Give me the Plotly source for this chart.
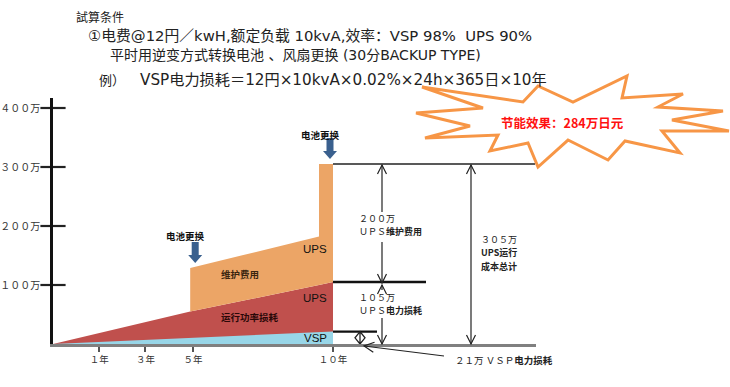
import math
import plotly.graph_objects as go

# ---------------- data ----------------
cost_years = [0, 4.9, 4.9, 9.5, 9.5, 10]          # x positions of the cost curve break points (years)
ups_power_loss = [0, 55, 55, 100, 100, 105]        # UPS running power loss, cumulative (万円)
ups_total_cost = [0, 55, 129, 182, 305, 305]       # UPS power loss + maintenance, cumulative (万円)
vsp_years = [0, 10]
vsp_power_loss = [0, 21]                           # VSP power loss, cumulative (万円)

battery_years = [4.9, 9.5]                         # battery replacement
y_ticks = [100, 200, 300, 400]
y_tick_text = ["１００万", "２００万", "３００万", "４００万"]
x_tick_text = ["１年", "３年", "５年", "１０年"]
x_tick_pos = [1.65, 3.3, 5.0, 10.0]

total_ups = 305
ups_maint = 200
ups_power = 105
vsp_power = 21
saving = 284

# ---------------- geometry helpers ----------------
W, H = 730, 387
X0, PXY = 53, 28.0        # px of year 0, px per year
Y0, PXW = 344, 0.59       # px of 0万, px per 万
XR, YT = 536, 98          # right end of x axis, top of y axis (px)


def xd(px):
    return (px - X0) / PXY


def yd(py):
    return (Y0 - py) / PXW


def px_(x):
    return X0 + x * PXY


def py_(y):
    return Y0 - y * PXW


def xp(px):
    return px / W


def yp(py):
    return 1 - py / H


CJK = "Noto Sans CJK SC"
LAT = "DejaVu Sans, Noto Sans CJK SC"
BLUE = "rgb(152,214,232)"
RED = "rgb(192,80,77)"
ORANGE = "rgb(236,165,102)"
ARROW_BLUE = "rgb(58,96,142)"
STAR = "rgb(247,150,70)"

fig = go.Figure()

fig.add_trace(go.Scatter(x=cost_years, y=ups_power_loss, mode="lines", line=dict(width=0, color=RED),
                         fill="tozeroy", fillcolor=RED, hoverinfo="skip", showlegend=False))
fig.add_trace(go.Scatter(x=cost_years, y=ups_total_cost, mode="lines", line=dict(width=0, color=ORANGE),
                         fill="tonexty", fillcolor=ORANGE, hoverinfo="skip", showlegend=False))
fig.add_trace(go.Scatter(x=vsp_years, y=vsp_power_loss, mode="lines", line=dict(width=0, color=BLUE),
                         fill="tozeroy", fillcolor=BLUE, hoverinfo="skip", showlegend=False))
# y tick marks crossing the axis
fig.add_trace(go.Scatter(x=[0] * len(y_ticks), y=y_ticks, mode="markers", cliponaxis=False,
                         marker=dict(symbol="line-ew", size=18, line=dict(width=2.2, color="#222")),
                         hoverinfo="skip", showlegend=False))

shapes = []


def seg(p1, p2, width=1.2, color="#222"):
    """line between two pixel points (paper coordinates, not clipped)"""
    shapes.append(dict(type="line", xref="paper", yref="paper", x0=xp(p1[0]), y0=yp(p1[1]),
                       x1=xp(p2[0]), y1=yp(p2[1]), line=dict(color=color, width=width)))


def head(tip, frm, length=9, half=4.5, width=1.2):
    """open V arrow head at pixel point tip, pointing away from pixel point frm"""
    vx, vy = tip[0] - frm[0], tip[1] - frm[1]
    n = math.hypot(vx, vy)
    ux, uy = vx / n, vy / n
    bx, by = tip[0] - ux * length, tip[1] - uy * length
    l = (bx - uy * half, by + ux * half)
    r = (bx + uy * half, by - ux * half)
    path = f"M{xp(l[0]):.5f},{yp(l[1]):.5f} L{xp(tip[0]):.5f},{yp(tip[1]):.5f} L{xp(r[0]):.5f},{yp(r[1]):.5f}"
    shapes.append(dict(type="path", xref="paper", yref="paper", path=path,
                       line=dict(color="#222", width=width)))


# horizontal reference lines at the right
x_end = cost_years[-1]
shapes.append(dict(type="line", xref="x", yref="y", x0=x_end, x1=xd(535), y0=total_ups, y1=total_ups,
                   line=dict(color="#222", width=1.6)))
shapes.append(dict(type="line", xref="x", yref="y", x0=x_end, x1=xd(426), y0=ups_power, y1=ups_power,
                   line=dict(color="#111", width=2.4)))
shapes.append(dict(type="line", xref="x", yref="y", x0=x_end, x1=xd(377), y0=vsp_power, y1=vsp_power,
                   line=dict(color="#111", width=2.2)))

# double arrows (split where the labels sit)
a1 = 382
top_p, mid_p, bot_p = py_(total_ups) + 1, py_(ups_power) + 1, py_(0)
seg((a1, top_p), (a1, 212))
seg((a1, 242), (a1, mid_p))
head((a1, top_p), (a1, top_p + 10))
head((a1, mid_p), (a1, mid_p - 10))
seg((a1, mid_p + 2), (a1, 290))
seg((a1, 318), (a1, bot_p))
head((a1, mid_p + 2), (a1, mid_p + 12))
head((a1, bot_p), (a1, bot_p - 10))
a2 = 471
seg((a2, top_p), (a2, bot_p))
head((a2, top_p), (a2, top_p + 10))
head((a2, bot_p), (a2, bot_p - 10))
# pointer from the VSP label to the diamond
seg((444, 356), (364, 346))
head((364, 346), (444, 356), length=10, half=5)

# diamond double arrow for the VSP loss
dx = xd(360)
dm = vsp_power / 2
shapes.append(dict(type="path", xref="x", yref="y",
                   path=f"M{dx},{vsp_power} L{xd(355)},{dm} L{dx},0 L{xd(365)},{dm} Z M{dx},{vsp_power} L{dx},0",
                   line=dict(color="#222", width=1.3)))

# battery replacement block arrows
for i, by in enumerate(battery_years):
    top_val = ups_total_cost[2] if i == 0 else ups_total_cost[4]
    ax_px = px_(by) + (5 if i == 0 else 11)
    tip = py_(top_val) - 5
    tail = tip - 21
    hw, sw, hl = 7, 3.5, 8
    pts = [(ax_px - sw, tail), (ax_px + sw, tail), (ax_px + sw, tip - hl), (ax_px + hw, tip - hl),
           (ax_px, tip), (ax_px - hw, tip - hl), (ax_px - sw, tip - hl)]
    path = "M" + " L".join(f"{xd(a)},{yd(b)}" for a, b in pts) + " Z"
    shapes.append(dict(type="path", xref="x", yref="y", path=path, fillcolor=ARROW_BLUE,
                       line=dict(width=0)))

# star burst (paper coordinates)
star_px = [(422, 87), (523, 102), (538, 86), (573, 102), (627, 76), (622, 98), (683, 94), (658, 107),
           (723, 111), (672, 120), (729, 131), (662, 131), (680, 153), (625, 141), (608, 160), (568, 140),
           (538, 167), (528, 143), (490, 151), (498, 135), (425, 138), (470, 126), (416, 113), (483, 108)]
star_path = "M" + " L".join(f"{xp(a):.4f},{yp(b):.4f}" for a, b in star_px) + " Z"
shapes.append(dict(type="path", xref="paper", yref="paper", path=star_path, fillcolor="white",
                   line=dict(color=STAR, width=3)))

fig.update_layout(shapes=shapes)

ann = []


def text(x, y, t, size, color="#222", family=CJK, weight="normal", xanchor="center", ref="x"):
    d = dict(x=x, y=y, text=t, showarrow=False, xanchor=xanchor, yanchor="middle",
             font=dict(family=family, size=size, color=color, weight=weight), align="left")
    if ref == "x":
        d.update(xref="x", yref="y")
    else:
        d.update(xref="paper", yref="paper")
    ann.append(d)


# labels inside the areas
text(xd(240), yd(274), "维护费用", 9.5, color="#3a2510", weight="bold")
text(xd(250), yd(317), "运行功率损耗", 9.5, color="#2a0808", weight="bold")
text(xd(315), yd(249), "UPS", 11.5, color="#111", family="Liberation Sans")
text(xd(315), yd(298), "UPS", 11.5, color="#111", family="Liberation Sans")
text(xd(315), yd(338), "VSP", 11.5, color="#111", family="Liberation Sans")

# battery labels
text(xd(185), yd(236), "电池更换", 9.5, color="#111", weight="bold")
text(xd(320), yd(135), "电池更换", 9.5, color="#111", weight="bold")

# right side explanations (one annotation per line)
text(xd(357), yd(219), f"{ups_maint}万".translate(str.maketrans("0123456789", "０１２３４５６７８９")), 9,
     xanchor="left")
text(xd(357), yd(232), "ＵＰＳ<b>维护费用</b>", 9, xanchor="left")
text(xd(357), yd(297), f"{ups_power}万".translate(str.maketrans("0123456789", "０１２３４５６７８９")), 9,
     xanchor="left")
text(xd(357), yd(310), "ＵＰＳ<b>电力损耗</b>", 9, xanchor="left")
text(xd(479), yd(240), f"{total_ups}万".translate(str.maketrans("0123456789", "０１２３４５６７８９")), 9,
     xanchor="left")
text(xd(479), yd(253), "<b>UPS运行</b>", 9, xanchor="left")
text(xd(479), yd(266), "<b>成本总计</b>", 9, xanchor="left")
text(xp(453), yp(360), "２１万 ＶＳＰ<b>电力损耗</b>", 9.5, xanchor="left", ref="paper")

# star text
text(xp(562), yp(122), f"节能效果：{saving}万日元", 12.5, color="#ff1010", weight="bold", ref="paper")

# header lines
text(xp(74), yp(16), "試算条件", 12, color="#222", xanchor="left", ref="paper")
text(xp(86), yp(36), "①电费@12円／kwH,额定负载 10kvA,效率：VSP 98%  UPS 90%", 14.8, color="#222",
     family=LAT, xanchor="left", ref="paper")
text(xp(108), yp(55), "平时用逆变方式转换电池 、风扇更换 (30分BACKUP TYPE)", 14.0, color="#222",
     family=LAT, xanchor="left", ref="paper")
text(xp(97), yp(80), "例）", 13, color="#222", xanchor="left", ref="paper")
text(xp(138), yp(80), "VSP电力损耗＝12円×10kvA×0.02%×24h×365日×10年", 15.2, color="#222",
     family=LAT, xanchor="left", ref="paper")

fig.update_layout(
    annotations=ann,
    width=W, height=H,
    margin=dict(l=0, r=0, t=0, b=0),
    paper_bgcolor="white", plot_bgcolor="white",
    showlegend=False,
    xaxis=dict(domain=[xp(X0), xp(XR)], range=[0, xd(XR)], showgrid=False, zeroline=False,
               showline=True, linecolor="#808080", linewidth=2.5,
               tickmode="array", tickvals=x_tick_pos, ticktext=x_tick_text,
               ticks="outside", ticklen=5, tickwidth=1.5, tickcolor="#555",
               tickfont=dict(family=CJK, size=9.5, color="#333"), fixedrange=True),
    yaxis=dict(domain=[yp(Y0), yp(YT)], range=[0, yd(YT)], showgrid=False, zeroline=False,
               showline=True, linecolor="#111", linewidth=2.5,
               tickmode="array", tickvals=y_ticks, ticktext=y_tick_text,
               ticks="outside", ticklen=8, tickwidth=0.1, tickcolor="rgba(0,0,0,0)",
               tickfont=dict(family=CJK, size=10, color="#333"), fixedrange=True),
)

fig.write_html("out.html", config={"displayModeBar": False},
               post_script="document.body.style.margin='0';document.body.style.overflow='hidden';")
